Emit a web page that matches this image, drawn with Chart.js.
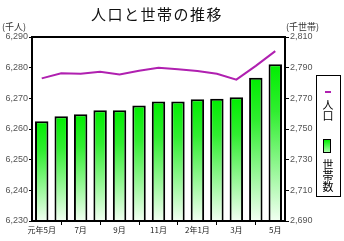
<!DOCTYPE html>
<html><head><meta charset="utf-8">
<script src="https://cdn.jsdelivr.net/npm/chart.js@4/dist/chart.umd.min.js"></script>
<style>
body{margin:0;background:#fff;}
#wrap{position:relative;width:344px;height:241px;overflow:hidden;font-family:"Noto Sans CJK JP","DejaVu Sans",sans-serif;}
canvas{position:absolute;left:0;top:0;}
.t{position:absolute;white-space:nowrap;color:#111;}
#title{left:0;width:314px;top:3px;text-align:center;font-size:15px;letter-spacing:1.5px;}
#ul{left:2px;top:20px;font-size:9px;color:#333;}
#ur{left:286px;top:20px;font-size:9px;color:#333;}
#leg{position:absolute;left:316px;top:75px;width:25px;height:122px;border:1px solid #000;box-sizing:border-box;}
.vt{position:absolute;writing-mode:vertical-rl;font-size:11px;left:5px;color:#000;line-height:12px;}
</style></head>
<body><div id="wrap">
<canvas id="c" width="344" height="241"></canvas>
<div class="t" id="title">人口と世帯の推移</div>
<div class="t" id="ul">(千人)</div>
<div class="t" id="ur">(千世帯)</div>
<div id="leg">
 <div style="position:absolute;left:8px;top:15px;width:6px;height:2px;background:#b020b0"></div>
 <div class="vt" style="top:23px">人口</div>
 <div style="position:absolute;left:6px;top:63px;width:6px;height:12px;border:1.5px solid #000;background:linear-gradient(#00ee00,#aaffaa)"></div>
 <div class="vt" style="top:83px">世帯数</div>
</div>
</div>
<script>
const categories = ["元年5月","6月","7月","8月","9月","10月","11月","12月","2年1月","2月","3月","4月","5月"];
const population = [6276.5,6278.2,6278.0,6278.7,6277.8,6279.0,6280.0,6279.5,6278.9,6278.0,6276.1,6280.6,6285.4];
const households = [2755.0,2758.3,2759.6,2762.2,2762.2,2765.4,2768.0,2768.0,2769.4,2769.8,2770.7,2783.5,2792.2];
const leftTicks = [6230,6240,6250,6260,6270,6280,6290];
const rightTicks = [2690,2710,2730,2750,2770,2790,2810];
const shownLabels = ["元年5月","7月","9月","11月","2年1月","3月","5月"];

const frame = {
  id:'frame',
  afterDatasetsDraw(chart){
    const {ctx, chartArea:a} = chart;
    ctx.save();ctx.strokeStyle='#000';ctx.lineWidth=2;
    ctx.strokeRect(a.left,a.top,a.right-a.left,a.bottom-a.top);
    ctx.restore();
  }
};

function barGrad(ctx){
  const chart = ctx.chart; const a = chart.chartArea;
  if(!a || ctx.raw===undefined) return '#00ee00';
  const top = chart.scales.y2.getPixelForValue(ctx.raw);
  const g = chart.ctx.createLinearGradient(0,top,0,a.bottom);
  g.addColorStop(0,'#00ee00');
  g.addColorStop(0.3,'#30ee30');
  g.addColorStop(1,'#f2fff2');
  return g;
}

new Chart(document.getElementById('c'),{
  data:{
    labels:categories,
    datasets:[
      {type:'line',label:'人口',data:population,yAxisID:'y',borderColor:'#b020b0',borderWidth:2,pointRadius:0,tension:0,order:0},
      {type:'bar',label:'世帯数',data:households,yAxisID:'y2',backgroundColor:barGrad,borderColor:'#000',borderWidth:2,borderSkipped:false,barPercentage:0.69,categoryPercentage:1,order:1}
    ]
  },
  options:{
    responsive:false,animation:false,
    layout:{padding:{top:37,left:0,right:0,bottom:0}},
    plugins:{legend:{display:false},tooltip:{enabled:false},title:{display:false}},
    scales:{
      x:{
        grid:{offset:false,drawOnChartArea:false,drawTicks:true,tickLength:4,color:(c)=> (c.index%2===1)?'#000':'rgba(0,0,0,0)',lineWidth:1},
        border:{display:false},
        ticks:{autoSkip:false,maxRotation:0,padding:0,color:'#222',font:{size:8,family:'"Noto Sans CJK JP"'},
          callback:function(v,i){const l=this.getLabelForValue(v);return shownLabels.includes(l)&&(i%2===0)?l:'';}},
        afterFit:(s)=>{s.height=20;}
      },
      y:{
        position:'left',min:6230,max:6290,
        afterBuildTicks:(s)=>{s.ticks=leftTicks.map(v=>({value:v}));},
        grid:{drawOnChartArea:false,tickLength:3,color:'#000'},
        border:{display:false},
        ticks:{padding:1,color:'#555',font:{size:9,family:'"Liberation Sans"'},callback:(v)=>v.toLocaleString('en-US')},
        afterFit:(s)=>{s.width=32;}
      },
      y2:{
        position:'right',min:2690,max:2810,
        afterBuildTicks:(s)=>{s.ticks=rightTicks.map(v=>({value:v}));},
        grid:{drawOnChartArea:false,tickLength:4,color:'#000'},
        border:{display:false},
        ticks:{padding:1,color:'#555',font:{size:9,family:'"Liberation Sans"'},callback:(v)=>v.toLocaleString('en-US')},
        afterFit:(s)=>{s.width=59;}
      }
    }
  },
  plugins:[frame]
});
</script>
</body></html>
